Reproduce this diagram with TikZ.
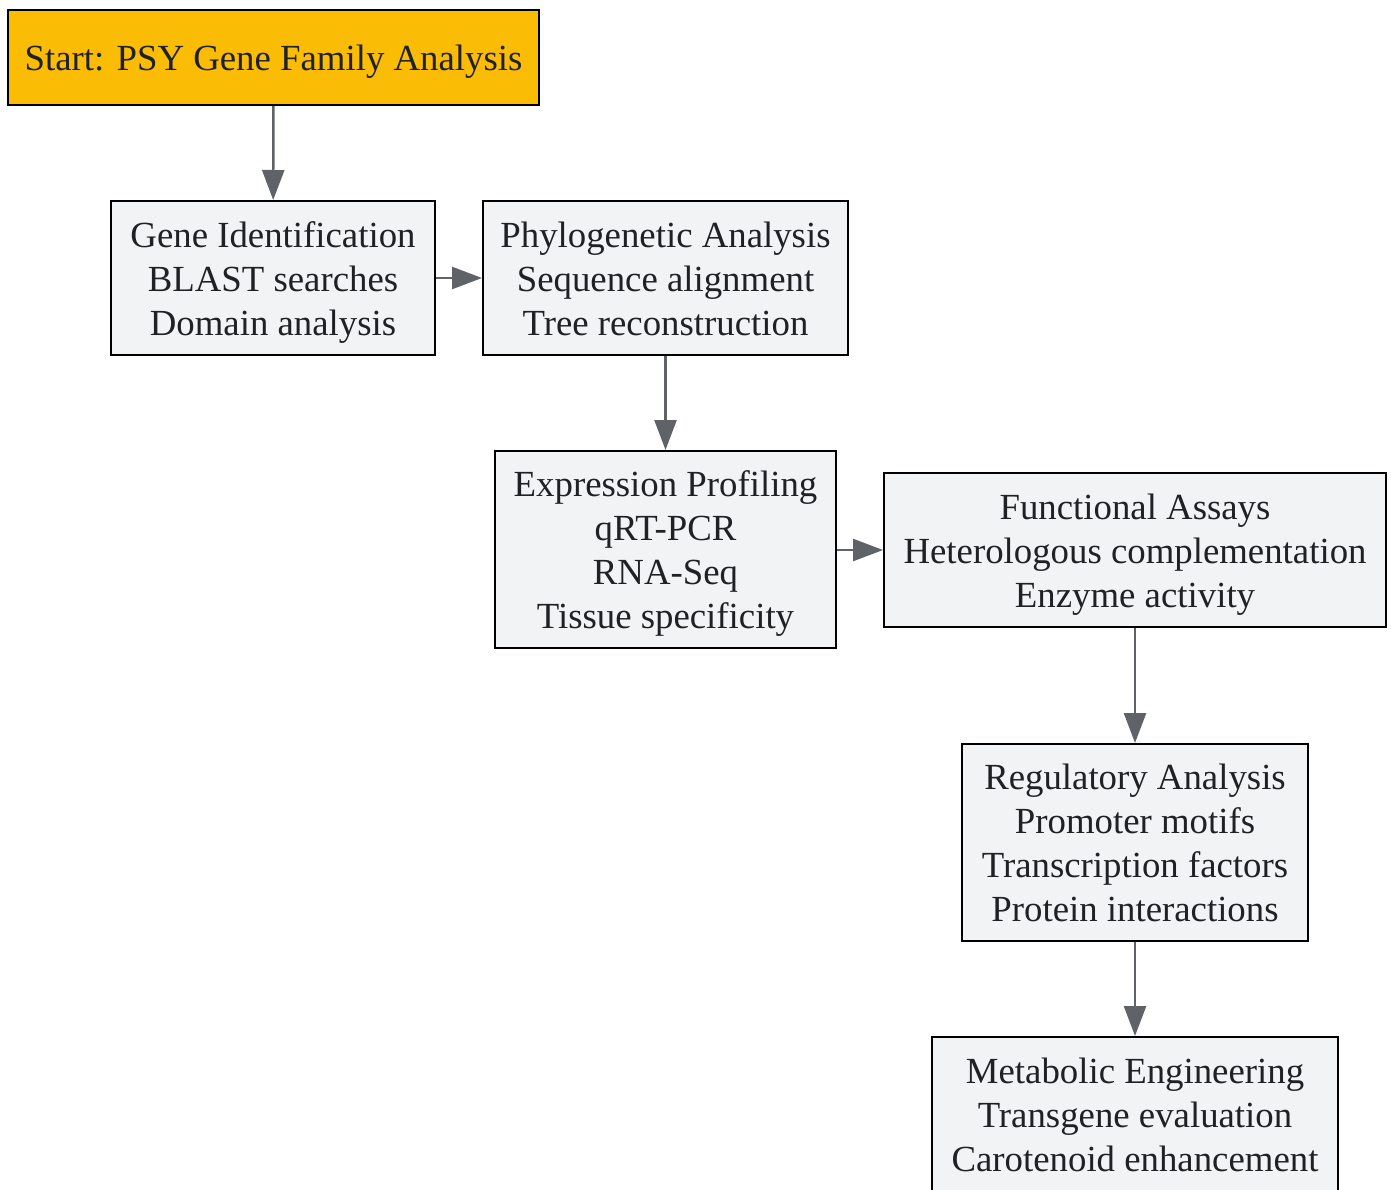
\documentclass[tikz,border=0pt]{standalone}
\usepackage{fontspec}
\setmainfont{Liberation Serif}
\usetikzlibrary{arrows.meta}
\definecolor{startfill}{HTML}{FBBC05}
\definecolor{boxfill}{HTML}{F1F3F4}
\definecolor{arrowcol}{HTML}{5F6368}
\definecolor{textcol}{HTML}{202124}
\newcommand\tstrut{\rule{0pt}{35pt}}
\newcommand\bstrut{\rule[-9pt]{0pt}{9pt}}
\begin{document}
\begin{tikzpicture}[x=1pt,y=1pt,
  box/.style={draw=black, line width=2pt, fill=boxfill, align=center, inner sep=0pt,
    text=textcol, font=\fontsize{36.8}{44}\selectfont},
  startbox/.style={box, fill=startfill},
  conn/.style={draw=arrowcol, line width=2.5pt, -{Triangle[length=30pt,width=22pt]}}]
\useasboundingbox (0,0) rectangle (1391,-1189);
\node[startbox, minimum width=531pt, minimum height=95pt] (start) at (273.5,-57.5) {\tstrut Start: PSY Gene Family Analysis\bstrut};
\node[box, minimum width=324pt, minimum height=154pt] (gene) at (273,-278) {\tstrut Gene Identification\\BLAST searches\\Domain analysis\bstrut};
\node[box, minimum width=365pt, minimum height=154pt] (phylo) at (665.5,-278) {\tstrut Phylogenetic Analysis\\Sequence alignment\\Tree reconstruction\bstrut};
\node[box, minimum width=341pt, minimum height=197pt] (expr) at (665.5,-549.5) {\tstrut Expression Profiling\\qRT-PCR\\RNA-Seq\\Tissue specificity\bstrut};
\node[box, minimum width=502pt, minimum height=154pt] (func) at (1135,-550) {\tstrut Functional Assays\\Heterologous complementation\\Enzyme activity\bstrut};
\node[box, minimum width=346pt, minimum height=197pt] (reg) at (1135,-842.5) {\tstrut Regulatory Analysis\\Promoter motifs\\Transcription factors\\Protein interactions\bstrut};
\node[box, minimum width=406pt, minimum height=154pt] (metab) at (1135,-1114) {\tstrut Metabolic Engineering\\Transgene evaluation\\Carotenoid enhancement\bstrut};
\draw[conn] (start) -- (gene);
\draw[conn] (gene) -- (phylo);
\draw[conn] (phylo) -- (expr);
\draw[conn] (expr.east |- func) -- (func);
\draw[conn] (func) -- (reg);
\draw[conn] (reg) -- (metab);
\end{tikzpicture}
\end{document}
